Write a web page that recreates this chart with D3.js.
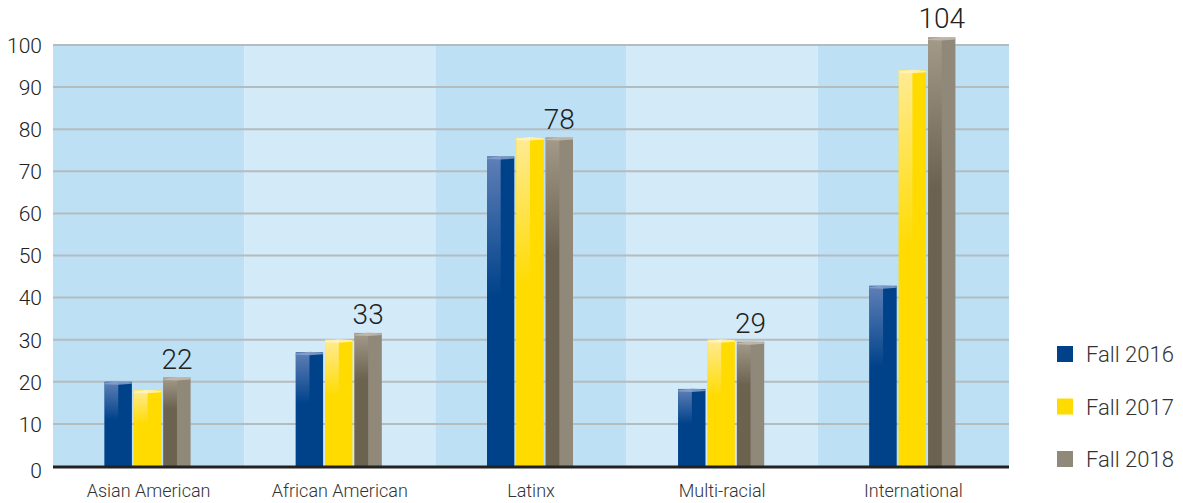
<!DOCTYPE html>
<html>
<head>
<meta charset="utf-8">
<script src="https://cdn.jsdelivr.net/npm/d3@7"></script>
<style>
  body { margin: 0; background: #fff; }
  text { font-family: Roboto, "Open Sans", sans-serif; font-weight: 300; }
</style>
</head>
<body>
<div id="chart"></div>
<script>
// Data
const categories = ['Asian American', 'African American', 'Latinx', 'Multi-racial', 'International'];
const seriesNames = ['Fall 2016', 'Fall 2017', 'Fall 2018'];
const fall2016 = [20, 27, 73.5, 18.3, 42.8];
const fall2017 = [18, 30, 78, 30, 94];
const fall2018 = [21, 31.6, 78, 29.5, 101.8];
const fall2018Labels = ['22', '33', '78', '29', '104'];
const yTicks = [0, 10, 20, 30, 40, 50, 60, 70, 80, 90, 100];

const seriesValues = [fall2016, fall2017, fall2018];

const width = 1183;
const height = 503;
const plot = { left: 53, right: 1009, top: 45, bottom: 466 };

const colors = {
    'Fall 2016': { side: '#00428a', light: '#5f7fb7', top: '#8aa2cc' },
    'Fall 2017': { side: '#ffdb00', light: '#ffeb94', top: '#fff3c2' },
    'Fall 2018': { side: '#908878', light: '#6c6250', top: '#c4bcae' }
};

const svg = d3.select('#chart')
    .append('svg')
    .attr('width', width)
    .attr('height', height);

const defs = svg.append('defs');
seriesNames.forEach((s, i) => {
    const g = defs.append('linearGradient')
        .attr('id', 'grad' + i)
        .attr('x1', 0).attr('y1', 0).attr('x2', 0).attr('y2', 1);
    if (i === 2) {
        g.append('stop').attr('offset', '0%').attr('stop-color', '#a39a89');
        g.append('stop').attr('offset', '35%').attr('stop-color', colors[s].light);
        g.append('stop').attr('offset', '100%').attr('stop-color', colors[s].light);
    } else {
        g.append('stop').attr('offset', '0%').attr('stop-color', colors[s].light);
        g.append('stop').attr('offset', '45%').attr('stop-color', colors[s].side);
        g.append('stop').attr('offset', '100%').attr('stop-color', colors[s].side);
    }
});

const x = d3.scaleBand()
    .domain(categories)
    .range([plot.left, plot.right])
    .paddingInner(0);

const y = d3.scaleLinear()
    .domain([0, 100])
    .range([plot.bottom, plot.top]);

// alternating bands
svg.append('g')
    .selectAll('rect')
    .data(categories)
    .join('rect')
        .attr('x', d => x(d))
        .attr('y', y(100))
        .attr('width', x.bandwidth())
        .attr('height', y(0) - y(100))
        .attr('fill', (d, i) => i % 2 === 0 ? '#bde0f5' : '#d3eaf8');

// gridlines
svg.append('g')
    .selectAll('line')
    .data(yTicks.filter(d => d > 0))
    .join('line')
        .attr('x1', plot.left)
        .attr('x2', plot.right)
        .attr('y1', d => y(d))
        .attr('y2', d => y(d))
        .attr('stroke', '#b4bcc0')
        .attr('stroke-width', 2);

// y axis labels
const yAxis = svg.append('g')
    .attr('transform', `translate(${plot.left - 11},0)`)
    .call(d3.axisLeft(y).tickValues(yTicks).tickSize(0).tickPadding(0));
yAxis.select('.domain').remove();
yAxis.selectAll('text')
    .attr('font-size', 21)
    .attr('fill', '#222')
    .attr('font-family', 'Roboto, sans-serif')
    .attr('dy', (d) => d === 0 ? '0.55em' : '0.35em');

// bars
const xs = d3.scaleBand()
    .domain(seriesNames)
    .range([-44, 42])
    .paddingInner(0.07);

const bw = xs.bandwidth();
const groups = svg.append('g')
    .selectAll('g')
    .data(categories)
    .join('g')
        .attr('transform', d => `translate(${x(d) + x.bandwidth() / 2},0)`);

seriesNames.forEach((s, si) => {
    const bars = groups.append('g');
    const vals = seriesValues[si];
    // right face
    bars.append('rect')
        .attr('x', xs(s))
        .attr('y', (d, i) => y(vals[i]))
        .attr('width', bw)
        .attr('height', (d, i) => y(0) - y(vals[i]))
        .attr('fill', colors[s].side);
    // left face with gradient
    bars.append('rect')
        .attr('x', xs(s))
        .attr('y', (d, i) => y(vals[i]))
        .attr('width', bw / 2)
        .attr('height', (d, i) => y(0) - y(vals[i]))
        .attr('fill', `url(#grad${si})`);
    // top cap
    bars.append('path')
        .attr('d', (d, i) => {
            const x0 = xs(s), x1 = xs(s) + bw, xm = xs(s) + bw / 2, t = y(vals[i]);
            return `M${x0},${t + 1.5} L${xm},${t - 0.5} L${x1},${t + 0.5} L${x1},${t + 2} L${xm},${t + 3} L${x0},${t + 2.5} Z`;
        })
        .attr('fill', colors[s].top)
        .attr('opacity', 0.85);
});

// value labels over Fall 2018
groups.append('text')
    .attr('x', xs('Fall 2018') + bw / 2)
    .attr('y', (d, i) => y(fall2018[i]) - 9)
    .attr('text-anchor', 'middle')
    .attr('font-size', 28)
    .attr('fill', '#222')
    .text((d, i) => fall2018Labels[i]);

// baseline
svg.append('line')
    .attr('x1', plot.left)
    .attr('x2', plot.right)
    .attr('y1', y(0) + 1)
    .attr('y2', y(0) + 1)
    .attr('stroke', '#222')
    .attr('stroke-width', 3);

// category labels
svg.append('g')
    .selectAll('text')
    .data(categories)
    .join('text')
        .attr('x', d => x(d) + x.bandwidth() / 2)
        .attr('y', 497)
        .attr('text-anchor', 'middle')
        .attr('font-size', 18)
        .attr('fill', '#333')
        .text(d => d);

// legend
const legend = svg.append('g')
    .selectAll('g')
    .data(seriesNames)
    .join('g')
        .attr('transform', (d, i) => `translate(1057,${346 + i * 52.5})`);
legend.append('rect')
    .attr('width', 16)
    .attr('height', 16)
    .attr('fill', d => colors[d].side);
legend.append('text')
    .attr('x', 29)
    .attr('y', 16)
    .attr('font-size', 22)
    .attr('fill', '#333')
    .text(d => d);
</script>
</body>
</html>
